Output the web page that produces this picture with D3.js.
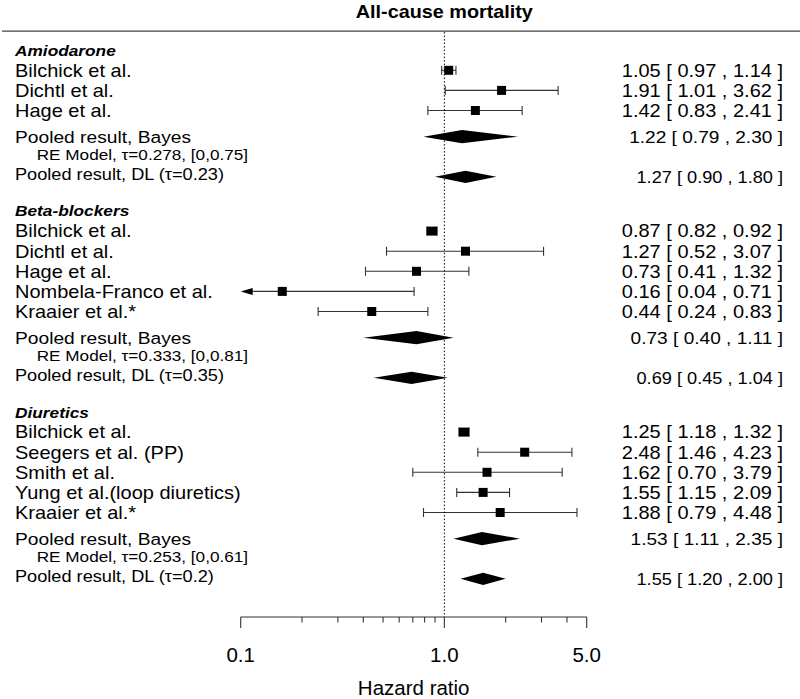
<!DOCTYPE html>
<html>
<head>
<meta charset="utf-8">
<script src="https://cdn.jsdelivr.net/npm/d3@7/dist/d3.min.js"></script>
<style>
  html, body { margin: 0; padding: 0; background: #fff; }
  svg { display: block; font-family: "Liberation Sans", Arial, sans-serif; }
</style>
</head>
<body>
<svg id="chart" width="800" height="699"></svg>
<script>
// ---------------- DATA ----------------
const title = "All-cause mortality";
const groups = ["Amiodarone", "Beta-blockers", "Diuretics"];

const amioStudies = ["Bilchick et al.", "Dichtl et al.", "Hage et al."];
const amioEst = [1.05, 1.91, 1.42];
const amioLo  = [0.97, 1.01, 0.83];
const amioHi  = [1.14, 3.62, 2.41];

const betaStudies = ["Bilchick et al.", "Dichtl et al.", "Hage et al.", "Nombela-Franco et al.", "Kraaier et al.*"];
const betaEst = [0.87, 1.27, 0.73, 0.16, 0.44];
const betaLo  = [0.82, 0.52, 0.41, 0.04, 0.24];
const betaHi  = [0.92, 3.07, 1.32, 0.71, 0.83];

const diurStudies = ["Bilchick et al.", "Seegers et al. (PP)", "Smith et al.", "Yung et al.(loop diuretics)", "Kraaier et al.*"];
const diurEst = [1.25, 2.48, 1.62, 1.55, 1.88];
const diurLo  = [1.18, 1.46, 0.70, 1.15, 0.79];
const diurHi  = [1.32, 4.23, 3.79, 2.09, 4.48];

// pooled Bayes results (per group)
const bayesEst = [1.22, 0.73, 1.53];
const bayesLo  = [0.79, 0.40, 1.11];
const bayesHi  = [2.30, 1.11, 2.35];
const bayesTau = ["0.278", "0.333", "0.253"];
const bayesTauCI = ["[0,0.75]", "[0,0.81]", "[0,0.61]"];

// pooled DerSimonian-Laird results (per group)
const dlEst = [1.27, 0.69, 1.55];
const dlLo  = [0.90, 0.45, 1.20];
const dlHi  = [1.80, 1.04, 2.00];
const dlTau = ["0.23", "0.35", "0.2"];

// study weights (relative box size)
const amioW = [1, 1, 1];
const betaW = [1.17, 1, 1, 1, 1];
const diurW = [1.17, 1, 1, 1, 1];

const axisMajor = [0.1, 1.0, 5.0];
const axisMinor = [0.2, 0.3, 0.4, 0.5, 0.6, 0.7, 0.8, 0.9, 2, 3, 4];
const axisTitle = "Hazard ratio";

// ---------------- BUILD ----------------
const studyLabels = [amioStudies, betaStudies, diurStudies];
const studyEst = [amioEst, betaEst, diurEst];
const studyLo = [amioLo, betaLo, diurLo];
const studyHi = [amioHi, betaHi, diurHi];
const studyW = [amioW, betaW, diurW];

const svg = d3.select("#chart");
const x = d3.scaleLog().domain([0.1, 5]).range([240.7, 586.7]);
const y = d3.scaleLinear().domain([0, 1]).range([70.3, 90.4]);
const xMin = x.domain()[0];
const f2 = v => v.toFixed(2);
const SX = 1.13;
const ink = "#000";
const lineCol = "#333";

function txt(g, X, Y, s, opts) {
  const sx = opts.sx || SX;
  const fs = opts.fs;
  const t = g.append("text")
    .attr("x", X / sx)
    .attr("y", Y + 0.36 * fs)
    .attr("transform", `scale(${sx},1)`)
    .attr("font-size", fs)
    .attr("fill", ink)
    .attr("text-anchor", opts.anchor || "start")
    .text(s);
  if (opts.weight) t.attr("font-weight", opts.weight);
  if (opts.style) t.attr("font-style", opts.style);
  return t;
}

const gText = svg.append("g");
const gMarks = svg.append("g");

// row layout
let row = 0;
const layout = [];
groups.forEach((gname, gi) => {
  const first = row;
  const rows = studyLabels[gi].map((_, i) => first + i);
  const last = rows[rows.length - 1];
  layout.push({ header: first - 1, rows, bayes: last + 1.3, re: last + 2.17, dlLabel: last + 3.15, dl: last + 3.3 });
  row = last + 6;
});

const labelX = 15;
const valueX = 783;

// title & top rule
txt(gText, x(1), 12, title, { fs: 18, weight: "bold", anchor: "middle", sx: 1.1 });
svg.append("line").attr("x1", 2).attr("x2", 800)
  .attr("y1", y(-1.95)).attr("y2", y(-1.95))
  .attr("stroke", "#444").attr("stroke-width", 1.3);

const axisY = y(27.2);

// reference line at HR = 1
svg.append("line").attr("x1", x(1)).attr("x2", x(1))
  .attr("y1", y(-1.95) + 1).attr("y2", axisY)
  .attr("stroke", ink).attr("stroke-width", 1).attr("stroke-dasharray", "1.5,2");

groups.forEach((gname, gi) => {
  const L = layout[gi];
  txt(gText, labelX, y(L.header), gname, { fs: 15.3, weight: "bold", style: "italic" });

  studyLabels[gi].forEach((lab, i) => {
    const yy = y(L.rows[i]);
    const est = studyEst[gi][i], lo = studyLo[gi][i], hi = studyHi[gi][i];
    txt(gText, labelX, yy, lab, { fs: 17.7 });
    txt(gText, valueX, yy, `${f2(est)} [ ${f2(lo)} , ${f2(hi)} ]`, { fs: 17.7, anchor: "end" });

    const clipped = lo < xMin;
    const xl = clipped ? x(xMin) + 12 : x(lo);
    gMarks.append("line").attr("x1", xl).attr("x2", x(hi))
      .attr("y1", yy).attr("y2", yy).attr("stroke", lineCol).attr("stroke-width", 1.1);
    gMarks.append("line").attr("x1", x(hi)).attr("x2", x(hi))
      .attr("y1", yy - 4.5).attr("y2", yy + 4.5).attr("stroke", lineCol).attr("stroke-width", 1.1);
    if (clipped) {
      const ax = x(xMin);
      gMarks.append("path")
        .attr("d", `M${ax},${yy} L${ax + 12},${yy - 3.5} L${ax + 12},${yy + 3.5} Z`)
        .attr("fill", ink);
    } else {
      gMarks.append("line").attr("x1", x(lo)).attr("x2", x(lo))
        .attr("y1", yy - 4.5).attr("y2", yy + 4.5).attr("stroke", lineCol).attr("stroke-width", 1.1);
    }
    const bw = 9 * studyW[gi][i], bh = 9;
    gMarks.append("rect")
      .attr("x", x(est) - bw / 2).attr("y", yy - bh / 2)
      .attr("width", bw).attr("height", bh).attr("fill", ink);
  });

  // pooled Bayes
  const yb = y(L.bayes);
  txt(gText, labelX, yb, "Pooled result, Bayes", { fs: 17 });
  txt(gText, 36.7, y(L.re), `RE Model, \u03c4=${bayesTau[gi]}, ${bayesTauCI[gi]}`, { fs: 15.2 });
  txt(gText, valueX, yb, `${f2(bayesEst[gi])} [ ${f2(bayesLo[gi])} , ${f2(bayesHi[gi])} ]`, { fs: 16.9, anchor: "end" });
  gMarks.append("path")
    .attr("d", `M${x(bayesLo[gi])},${yb} L${x(bayesEst[gi])},${yb - 6.6} L${x(bayesHi[gi])},${yb} L${x(bayesEst[gi])},${yb + 6.6} Z`)
    .attr("fill", ink);

  // pooled DL
  const yd = y(L.dl);
  txt(gText, labelX, y(L.dlLabel), `Pooled result, DL (\u03c4=${dlTau[gi]})`, { fs: 16.1 });
  txt(gText, valueX, yd, `${f2(dlEst[gi])} [ ${f2(dlLo[gi])} , ${f2(dlHi[gi])} ]`, { fs: 16.1, anchor: "end" });
  gMarks.append("path")
    .attr("d", `M${x(dlLo[gi])},${yd} L${x(dlEst[gi])},${yd - 6.2} L${x(dlHi[gi])},${yd} L${x(dlEst[gi])},${yd + 6.2} Z`)
    .attr("fill", ink);
});

// x axis
const gAxis = svg.append("g").attr("transform", `translate(0,${axisY})`);
gAxis.append("line").attr("x1", x(0.1)).attr("x2", x(5)).attr("y1", 0).attr("y2", 0)
  .attr("stroke", lineCol).attr("stroke-width", 1.1);
gAxis.selectAll("line.minor").data(axisMinor).join("line").attr("class", "minor")
  .attr("x1", d => x(d)).attr("x2", d => x(d)).attr("y1", 0).attr("y2", 5.5)
  .attr("stroke", lineCol).attr("stroke-width", 1.1);
gAxis.selectAll("line.major").data(axisMajor).join("line").attr("class", "major")
  .attr("x1", d => x(d)).attr("x2", d => x(d)).attr("y1", 0).attr("y2", 11)
  .attr("stroke", lineCol).attr("stroke-width", 1.1);
gAxis.selectAll("text.tick").data(axisMajor).join("text").attr("class", "tick")
  .attr("x", d => x(d)).attr("y", 661.7 - axisY)
  .attr("text-anchor", "middle").attr("font-size", 20.5).attr("fill", ink)
  .text(d => d.toFixed(1));
svg.append("text").attr("x", (x(0.1) + x(5)) / 2).attr("y", 694.5)
  .attr("text-anchor", "middle").attr("font-size", 20.5).attr("fill", ink)
  .text(axisTitle);
</script>
</body>
</html>
